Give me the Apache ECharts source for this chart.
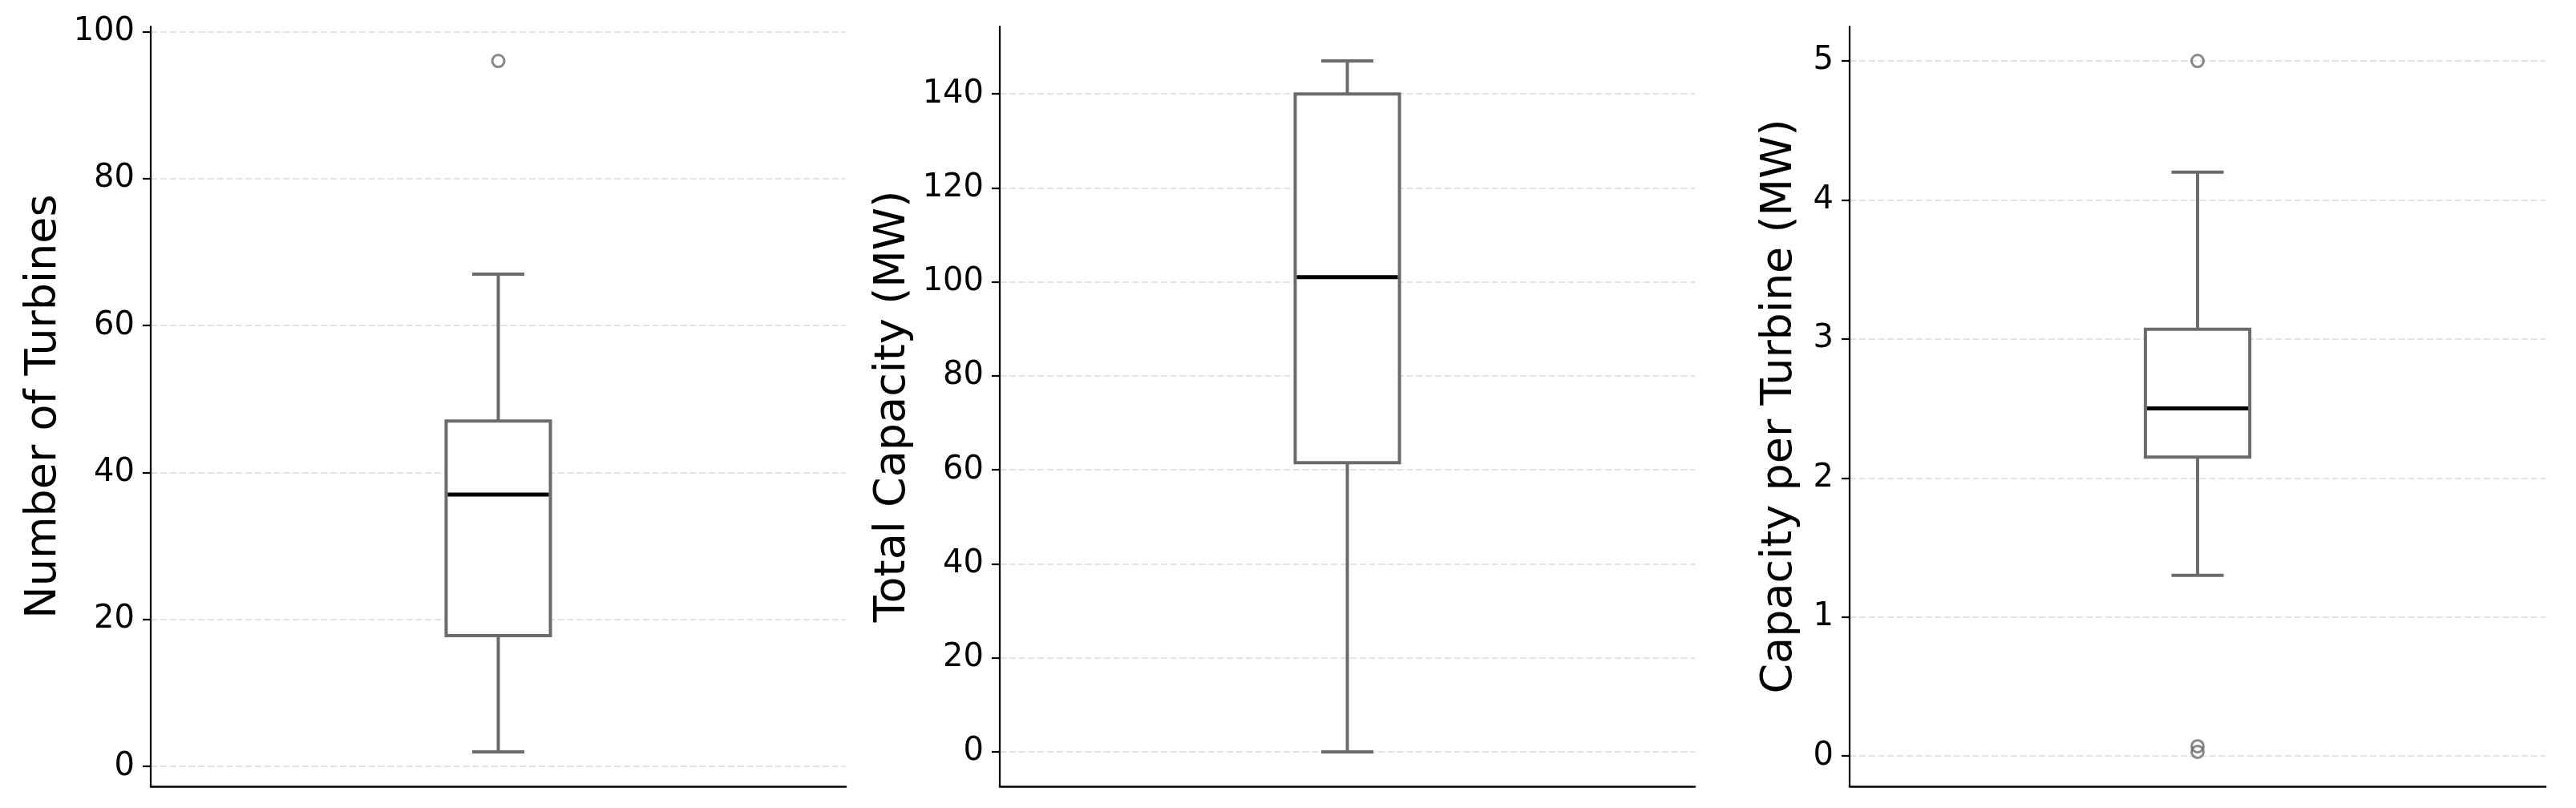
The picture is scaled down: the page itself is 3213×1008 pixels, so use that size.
<!DOCTYPE html>
<html>
<head>
<meta charset="utf-8">
<script src="https://cdn.jsdelivr.net/npm/echarts@6/dist/echarts.min.js"></script>
<style>
  html, body { margin: 0; padding: 0; background: #ffffff; }
  #chart { width: 3213px; height: 1008px; }
</style>
</head>
<body>
<div id="chart"></div>
<script>
// ---- Data ----
const yLabels = ['Number of Turbines', 'Total Capacity (MW)', 'Capacity per Turbine (MW)'];
// [lower whisker, Q1, median, Q3, upper whisker]
const turbinesStats = [2, 17.8, 37, 47, 67];
const capacityStats = [0, 61.5, 101, 140, 147];
const perTurbineStats = [1.3, 2.15, 2.5, 3.07, 4.2];
const turbinesOutliers = [96];
const capacityOutliers = [];
const perTurbineOutliers = [5.0, 0.07, 0.03];
const turbinesTicks = [0, 20, 40, 60, 80, 100];
const capacityTicks = [0, 20, 40, 60, 80, 100, 120, 140];
const perTurbineTicks = [0, 1, 2, 3, 4, 5];
const yRanges = [[-2.7, 100.7], [-7.35, 154.35], [-0.2185, 5.2485]];

const statsList = [turbinesStats, capacityStats, perTurbineStats];
const outlierList = [turbinesOutliers, capacityOutliers, perTurbineOutliers];
const tickList = [turbinesTicks, capacityTicks, perTurbineTicks];

// ---- Layout / style ----
const FONT = 'DejaVu Sans';
const gridLefts = [188, 1247, 2307];
const gridWidths = [867, 867, 868];
const nameGaps = [106, 106, 60];
const BOX_COLOR = '#6b6b6b';
const BOX_W = 0.15;

const grids = [], xAxes = [], yAxes = [], series = [];
for (let i = 0; i < 3; i++) {
  grids.push({ left: gridLefts[i], width: gridWidths[i], top: 33, height: 948, containLabel: false });
  xAxes.push({
    type: 'value', gridIndex: i, min: 0.5, max: 1.5,
    axisLine: { show: true, onZero: false, lineStyle: { color: '#000', width: 2.5 } },
    axisTick: { show: false }, axisLabel: { show: false }, splitLine: { show: false }
  });
  yAxes.push({
    type: 'value', gridIndex: i, min: yRanges[i][0], max: yRanges[i][1],
    name: yLabels[i], nameLocation: 'middle', nameGap: nameGaps[i], nameRotate: 90,
    nameTextStyle: { fontFamily: FONT, fontSize: 54, color: '#000' },
    axisLine: { show: true, onZero: false, lineStyle: { color: '#000', width: 2.2 } },
    axisTick: { show: true, length: 10, customValues: tickList[i], lineStyle: { color: '#000', width: 2.2 } },
    axisLabel: { customValues: tickList[i], fontFamily: FONT, fontSize: 40, color: '#000', margin: 20 },
    splitLine: { show: true, lineStyle: { color: '#e4e4e4', width: 2.2, type: [8.2, 3.6] } }
  });
  series.push({
    type: 'custom', xAxisIndex: i, yAxisIndex: i,
    data: [[1].concat(statsList[i])],
    renderItem: function (params, api) {
      const x = api.value(0);
      const lo = api.value(1), q1 = api.value(2), med = api.value(3), q3 = api.value(4), hi = api.value(5);
      const pLo = api.coord([x, lo]), pQ1 = api.coord([x, q1]), pMed = api.coord([x, med]);
      const pQ3 = api.coord([x, q3]), pHi = api.coord([x, hi]);
      const bw = api.size([BOX_W, 0])[0];
      const cw = bw / 2;
      const cx = pLo[0];
      const stroke = { stroke: BOX_COLOR, lineWidth: 4, fill: null };
      return {
        type: 'group',
        children: [
          { type: 'line', shape: { x1: cx, y1: pLo[1], x2: cx, y2: pQ1[1] }, style: stroke },
          { type: 'line', shape: { x1: cx, y1: pQ3[1], x2: cx, y2: pHi[1] }, style: stroke },
          { type: 'line', shape: { x1: cx - cw / 2, y1: pLo[1], x2: cx + cw / 2, y2: pLo[1] }, style: stroke },
          { type: 'line', shape: { x1: cx - cw / 2, y1: pHi[1], x2: cx + cw / 2, y2: pHi[1] }, style: stroke },
          { type: 'rect', shape: { x: cx - bw / 2, y: pQ3[1], width: bw, height: pQ1[1] - pQ3[1] },
            style: { stroke: BOX_COLOR, lineWidth: 4, fill: '#ffffff' } },
          { type: 'line', shape: { x1: cx - bw / 2 + 2, y1: pMed[1], x2: cx + bw / 2 - 2, y2: pMed[1] },
            style: { stroke: '#000000', lineWidth: 5 } }
        ]
      };
    },
    silent: true, animation: false, z: 2
  });
  series.push({
    type: 'scatter', xAxisIndex: i, yAxisIndex: i,
    data: outlierList[i].map(v => [1, v]),
    symbol: 'circle', symbolSize: 15,
    itemStyle: { color: 'rgba(255,255,255,0)', borderColor: BOX_COLOR, borderWidth: 3 },
    silent: true, animation: false, z: 3
  });
}

const chart = echarts.init(document.getElementById('chart'), null, { renderer: 'canvas' });
chart.setOption({
  backgroundColor: '#ffffff',
  animation: false,
  grid: grids, xAxis: xAxes, yAxis: yAxes, series: series
});
</script>
</body>
</html>
